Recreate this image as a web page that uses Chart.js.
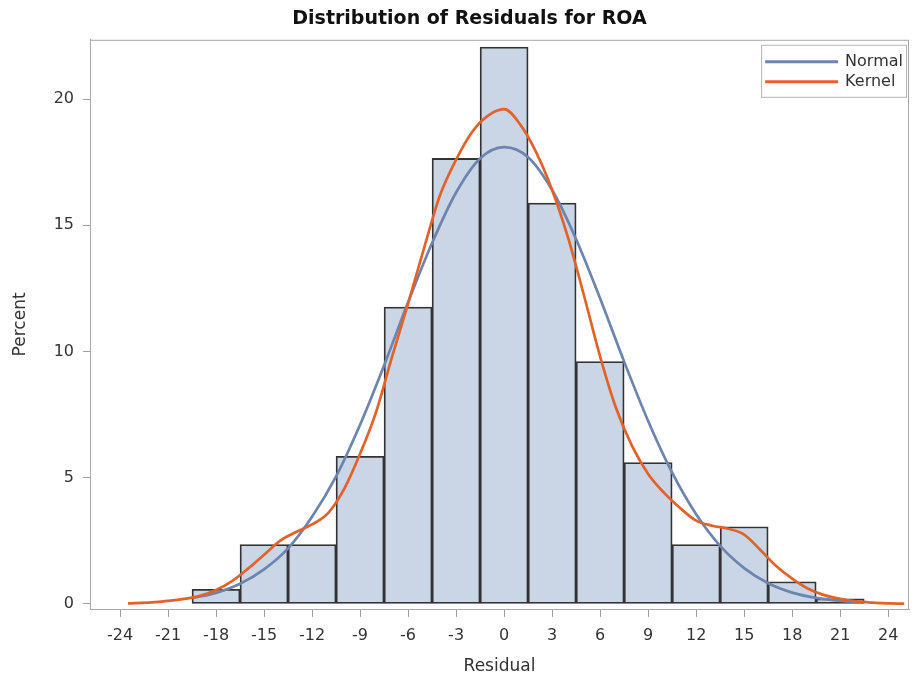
<!DOCTYPE html>
<html>
<head>
<meta charset="utf-8">
<script src="https://cdn.jsdelivr.net/npm/chart.js@4/dist/chart.umd.min.js"></script>
<style>
  body { margin: 0; background: #fff; }
  #cadre { width: 912px; height: 681px; }
</style>
</head>
<body>
<div id="cadre"><canvas id="residus" width="912" height="681"></canvas></div>
<script>
// DONNEES
const centresClasses = [-18, -15, -12, -9, -6, -3, 0, 3, 6, 9, 12, 15, 18, 21]
const pourcentages = [0.58, 2.35, 2.35, 5.85, 11.76, 17.65, 22.06, 15.88, 9.6, 5.6, 2.35, 3.06, 0.88, 0.2]

// courbe normale
const normaleX = [-19.5, -18, -16.5, -15, -13.5, -12, -10.5, -9, -7.5, -6, -4.5, -3, -1.5, 0, 1.5, 3, 4.5, 6, 7.5, 9, 10.5, 12, 13.5, 15, 16.5, 18, 19.5, 21, 22.5]
const normaleY = [0.23, 0.44, 0.8, 1.37, 2.2, 3.45, 5.05, 7.1, 9.45, 11.95, 14.3, 16.3, 17.65, 18.1, 17.7, 16.4, 14.45, 12.1, 9.6, 7.25, 5.2, 3.55, 2.3, 1.42, 0.82, 0.45, 0.24, 0.12, 0.06]

// courbe noyau (kernel)
const noyauX = [-23.5, -22, -21, -20, -19, -18, -17, -16, -15, -14, -13, -12, -11, -10, -9, -8, -7, -6, -5, -4, -3, -2, -1, 0, 1, 2, 3, 4, 5, 6, 7, 8, 9, 10, 11, 12, 13, 14, 15, 16, 17, 18, 19, 20, 21, 22, 23, 24, 25]
const noyauY = [0.02, 0.06, 0.12, 0.2, 0.32, 0.55, 0.9, 1.4, 1.95, 2.5, 2.85, 3.15, 3.6, 4.55, 5.95, 7.6, 9.8, 11.9, 14.1, 16.2, 17.6, 18.7, 19.35, 19.6, 19.0, 17.9, 16.4, 14.5, 12.2, 9.8, 7.75, 6.25, 5.15, 4.4, 3.8, 3.3, 3.1, 2.98, 2.75, 2.15, 1.5, 1.0, 0.6, 0.35, 0.2, 0.1, 0.05, 0.02, 0.01]

const ticksX = [-24, -21, -18, -15, -12, -9, -6, -3, 0, 3, 6, 9, 12, 15, 18, 21, 24]
const ticksY = [0, 5, 10, 15, 20]

const police = '"DejaVu Sans", sans-serif'

// cadre gris autour de la zone de tracé
const cadrePlot = {
  id: 'cadrePlot',
  beforeDatasetsDraw(chart) {
    const {ctx, chartArea} = chart
    ctx.save()
    ctx.strokeStyle = '#a8a8a8'
    ctx.lineWidth = 1
    ctx.strokeRect(chartArea.left + 0.5, chartArea.top + 0.5, chartArea.width - 1, chartArea.height)
    ctx.restore()
  }
}

// légende dans la zone de tracé (en haut à droite)
const legendeInterne = {
  id: 'legendeInterne',
  afterDraw(chart) {
    const {ctx, chartArea} = chart
    const courbes = chart.data.datasets.filter(d => d.type === 'line')
    ctx.save()
    ctx.font = '16px ' + police
    let largeurTexte = Math.max(...courbes.map(d => ctx.measureText(d.label).width))
    let w = 84 + largeurTexte + 3
    let h = courbes.length * 20 + 12
    let x = chartArea.right - 3 - w
    let y = chartArea.top + 5
    ctx.fillStyle = '#fff'
    ctx.fillRect(x, y, w, h)
    ctx.strokeStyle = '#b4b4b4'
    ctx.lineWidth = 1
    ctx.strokeRect(x + 0.5, y + 0.5, w, h)
    courbes.forEach((d, i) => {
      let ly = y + 17 + i * 20
      ctx.strokeStyle = d.borderColor
      ctx.lineWidth = 3
      ctx.beginPath()
      ctx.moveTo(x + 4, ly)
      ctx.lineTo(x + 77, ly)
      ctx.stroke()
      ctx.fillStyle = '#333'
      ctx.textBaseline = 'middle'
      ctx.textAlign = 'left'
      ctx.fillText(d.label, x + 84, ly)
    })
    ctx.restore()
  }
}

new Chart(document.getElementById('residus'), {
  data: {
    datasets: [
      {
        type: 'bar',
        label: 'Percent',
        data: centresClasses.map((c, i) => ({x: c, y: pourcentages[i]})),
        backgroundColor: 'rgb(202,213,229)',
        borderColor: '#333',
        borderWidth: 1.8,
        borderSkipped: false,
        barPercentage: 1,
        categoryPercentage: 1,
        order: 3
      },
      {
        type: 'line',
        label: 'Normal',
        data: normaleX.map((v, i) => ({x: v, y: normaleY[i]})),
        borderColor: 'rgb(108,133,175)',
        borderWidth: 2.7,
        pointRadius: 0,
        cubicInterpolationMode: 'monotone',
        order: 2
      },
      {
        type: 'line',
        label: 'Kernel',
        data: noyauX.map((v, i) => ({x: v, y: noyauY[i]})),
        borderColor: 'rgb(226,98,42)',
        borderWidth: 2.7,
        pointRadius: 0,
        cubicInterpolationMode: 'monotone',
        order: 1
      }
    ]
  },
  options: {
    responsive: false,
    animation: false,
    layout: { padding: { left: 30, right: 3, top: 0, bottom: 0 } },
    plugins: {
      legend: { display: false },
      tooltip: { enabled: false },
      title: {
        display: true,
        text: 'Distribution of Residuals for ROA',
        color: '#111',
        font: { family: police, size: 19, weight: 'bold' },
        padding: { top: 8, bottom: 9 }
      }
    },
    scales: {
      x: {
        type: 'linear',
        min: -25.875,
        max: 25.3,
        offset: false,
        afterBuildTicks: s => { s.ticks = ticksX.map(v => ({value: v})) },
        afterFit: s => { s.height = 72 },
        grid: { offset: false, drawOnChartArea: false, drawTicks: true, tickLength: 8, color: '#a0a0a0' },
        border: { display: true, color: '#a0a0a0' },
        ticks: { color: '#333', font: { family: police, size: 16 }, padding: 9, maxRotation: 0, autoSkip: false },
        title: { display: true, text: 'Residual', color: '#333', font: { family: police, size: 17 }, padding: { top: 4, bottom: 4 } }
      },
      y: {
        min: -0.2,
        max: 22.35,
        afterBuildTicks: s => { s.ticks = ticksY.map(v => ({value: v})) },
        afterFit: s => { s.width = 60 },
        grid: { drawOnChartArea: false, drawTicks: true, tickLength: 7, color: '#a0a0a0' },
        border: { display: true, color: '#a0a0a0' },
        ticks: { color: '#333', font: { family: police, size: 16 }, padding: 9 },
        title: { display: true, text: 'Percent', color: '#333', font: { family: police, size: 17 }, padding: { top: -20, bottom: -20 } }
      }
    }
  },
  plugins: [cadrePlot, legendeInterne]
})
</script>
</body>
</html>
